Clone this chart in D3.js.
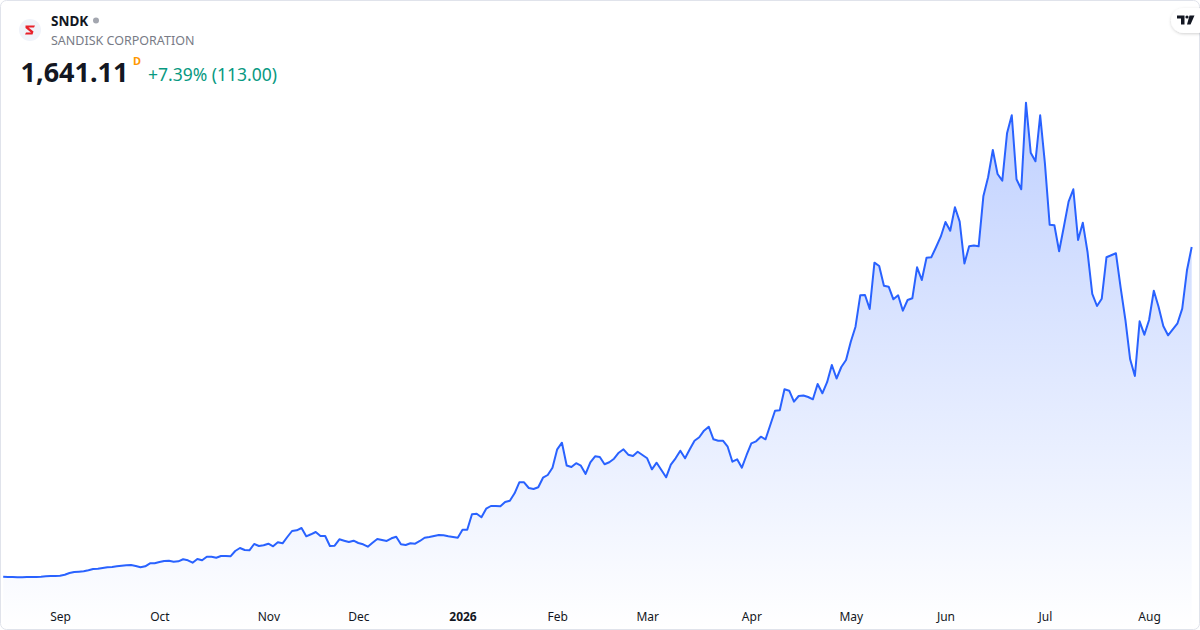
<!DOCTYPE html>
<html><head><meta charset="utf-8">
<script src="https://cdn.jsdelivr.net/npm/d3@7"></script>
<style>html,body{margin:0;padding:0;background:#fff;}svg{display:block;}</style>
</head><body>
<svg id="chart" width="1200" height="630"></svg>
<script>
const ticker = "SNDK";
const company = "SANDISK CORPORATION";
const lastPrice = "1,641.11";
const changeText = "+7.39% (113.00)";
const tickLabels = ["Sep","Oct","Nov","Dec","2026","Feb","Mar","Apr","May","Jun","Jul","Aug"];
const tickIndex = [12,33,56,75,97,117,136,158,179,199,220,242];
const closes = [
46.4,45.0,45.0,43.5,43.5,45.0,45.0,45.0,46.4,48.4,
49.8,49.8,51.3,56.1,64.3,69.2,70.6,72.5,77.4,83.7,
85.1,88.5,91.9,93.3,96.7,99.6,101.6,103.0,98.2,91.9,
96.7,111.2,111.2,117.5,122.3,123.8,119.0,120.9,130.6,125.7,
114.1,132.0,125.7,143.1,143.1,138.3,146.5,146.5,145.1,170.7,
185.2,175.5,174.1,204.6,194.9,198.3,206.0,193.4,212.8,208.0,
238.4,267.4,270.8,281.9,241.8,251.5,262.6,243.3,243.3,194.9,
196.3,227.3,220.5,214.2,220.5,209.4,203.1,191.5,210.8,228.7,
223.9,219.1,232.1,239.9,203.1,199.7,208.0,206.0,219.1,235.0,
238.4,243.3,248.1,246.6,241.8,238.4,235.0,273.7,273.7,348.2,
351.1,333.7,375.3,388.3,388.3,386.9,407.7,414.0,449.7,502.9,
502.9,475.4,470.5,478.8,525.2,538.2,573.5,662.5,694.4,584.2,
576.9,595.3,583.2,543.1,599.7,628.7,625.3,590.0,599.7,617.1,
646.1,662.5,636.4,630.1,650.9,635.0,619.0,565.8,597.7,562.4,
527.1,588.1,619.0,655.8,619.0,662.5,704.1,720.6,752.5,771.8,
710.9,704.1,704.1,675.1,602.6,614.2,573.5,635.0,691.5,701.2,
723.5,710.9,780.0,849.2,851.1,952.7,945.9,892.7,920.3,922.7,
915.5,904.3,978.3,933.3,987.0,1070.2,1004.9,1060.5,1094.4,1182.9,
1255.4,1407.3,1408.7,1341.0,1564.9,1549.0,1453.7,1448.9,1387.9,1407.3,
1332.8,1384.5,1392.8,1542.7,1481.3,1589.1,1591.0,1639.4,1690.6,1761.7,
1719.7,1832.8,1763.2,1561.0,1644.2,1647.6,1644.2,1886.0,1977.9,2109.9,
1993.9,1961.5,2190.7,2277.8,1968.3,1919.9,2338.7,2096.9,2055.3,2277.8,
2045.6,1748.7,1745.8,1620.1,1739.0,1859.9,1919.9,1674.7,1758.4,1616.7,
1413.6,1355.5,1390.8,1591.0,1600.7,1610.4,1442.6,1287.8,1097.8,1017.0,
1281.5,1216.7,1287.8,1429.5,1352.1,1258.8,1213.8,1242.8,1271.9,1342.5,
1528.11,1641.11
];

const svg = d3.select("#chart");
const W = 1200, H = 630;
const font = "'Noto Sans', 'Open Sans', sans-serif";

const x = d3.scaleLinear().domain([0, closes.length - 1]).range([3.2, 1191.7]);
const y = d3.scaleLinear().domain([0, 2400]).range([586.3, 90]);

const defs = svg.append("defs");
const grad = defs.append("linearGradient").attr("id","areaGrad")
  .attr("gradientUnits","userSpaceOnUse").attr("x1",0).attr("x2",0).attr("y1",95).attr("y2",630);
grad.append("stop").attr("offset","0%").attr("stop-color","#2962ff").attr("stop-opacity",0.30);
grad.append("stop").attr("offset","100%").attr("stop-color","#2962ff").attr("stop-opacity",0.0);
const sh = defs.append("filter").attr("id","shadow").attr("x","-50%").attr("y","-50%").attr("width","200%").attr("height","200%");
sh.append("feDropShadow").attr("dx",0).attr("dy",1).attr("stdDeviation",1.6).attr("flood-color","#000").attr("flood-opacity",0.18);
const clip = defs.append("clipPath").attr("id","card");
clip.append("rect").attr("x",1).attr("y",1).attr("width",W-2).attr("height",H-2).attr("rx",6);

const g = svg.append("g").attr("clip-path","url(#card)");

const area = d3.area().x((d,i)=>x(i)).y0(H).y1(d=>y(d));
g.append("path").datum(closes).attr("d",area).attr("fill","url(#areaGrad)");
const line = d3.line().x((d,i)=>x(i)).y(d=>y(d));
g.append("path").datum(closes).attr("d",line).attr("fill","none")
  .attr("stroke","#2962ff").attr("stroke-width",2).attr("stroke-linejoin","round");

// x axis
const axis = d3.axisBottom(x).tickValues(tickIndex).tickSize(0).tickPadding(0)
  .tickFormat((d,i)=>tickLabels[i]);
const ax = svg.append("g").attr("transform","translate(0,612)").call(axis);
ax.select(".domain").remove();
ax.selectAll("text").attr("font-family",font).attr("font-size",12).attr("fill","#131722")
  .attr("font-weight",(d,i)=>tickLabels[i]==="2026"?"bold":"normal");

// card border
svg.append("rect").attr("x",0.5).attr("y",0.5).attr("width",W-1).attr("height",H-1).attr("rx",6)
  .attr("fill","none").attr("stroke","#e0e3eb").attr("stroke-width",1);

// header logo
svg.append("circle").attr("cx",30).attr("cy",30).attr("r",11).attr("fill","#f0f3fa");
svg.append("path").attr("d","M25.5,25.5 L35,25.5 L34,27.5 L28.5,27.5 L33.5,31.5 L32.5,34.5 L25,34.5 L26,32.5 L31,32.5 L25.5,28 Z")
  .attr("fill","#e8202a");

svg.append("text").attr("x",51).attr("y",26).text(ticker)
  .attr("font-family",font).attr("font-size",13.5).attr("font-weight","bold").attr("fill","#131722");
svg.append("circle").attr("cx",96).attr("cy",20.5).attr("r",3).attr("fill","#a3a6af");
svg.append("text").attr("x",51).attr("y",45).text(company)
  .attr("font-family",font).attr("font-size",12.5).attr("fill","#787b86");
svg.append("text").attr("x",20.5).attr("y",82).text(lastPrice)
  .attr("font-family",font).attr("font-size",27).attr("font-weight","bold").attr("fill","#131722");
svg.append("text").attr("x",133).attr("y",65).text("D")
  .attr("font-family",font).attr("font-size",11).attr("font-weight","bold").attr("fill","#ff9800");
svg.append("text").attr("x",148).attr("y",81).text(changeText)
  .attr("font-family",font).attr("font-size",17.5).attr("fill","#089981");

// TV badge
svg.append("rect").attr("x",1171).attr("y",8).attr("width",40).attr("height",25).attr("rx",12.5)
  .attr("fill","#fff").attr("filter","url(#shadow)");
svg.append("path").attr("d","M1177,15.5 L1184.5,15.5 L1184.5,24.5 L1181,24.5 L1181,18.5 L1177,18.5 Z").attr("fill","#131722");
svg.append("circle").attr("cx",1187).attr("cy",17).attr("r",1.6).attr("fill","#131722");
svg.append("path").attr("d","M1189.5,15.5 L1194.5,15.5 L1190.5,24.5 L1187,24.5 Z").attr("fill","#131722");
</script>
</body></html>
